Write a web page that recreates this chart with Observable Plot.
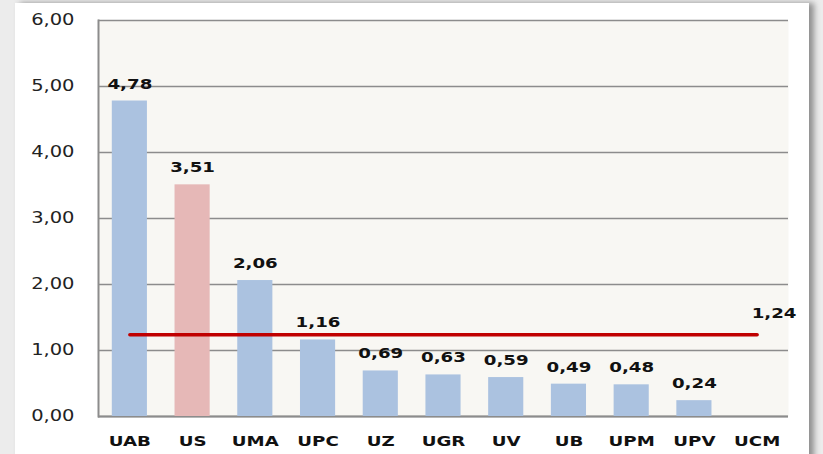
<!DOCTYPE html>
<html>
<head>
<meta charset="utf-8">
<script src="https://cdn.jsdelivr.net/npm/d3@7"></script>
<script src="https://cdn.jsdelivr.net/npm/@observablehq/plot@0.6"></script>
<style>
  html, body { margin: 0; padding: 0; width: 823px; height: 454px; overflow: hidden; background: #ececec; }
  #card { position: absolute; left: 15px; top: 3px; width: 794px; height: 470px; background: #ffffff; box-shadow: 5px 0 6px #8f8f8f; }
  #chart { position: absolute; left: 0; top: 0; }
</style>
</head>
<body>
<div id="card"></div>
<div id="chart"></div>
<script>
const categories = ["UAB", "US", "UMA", "UPC", "UZ", "UGR", "UV", "UB", "UPM", "UPV", "UCM"];
const values = [4.78, 3.51, 2.06, 1.16, 0.69, 0.63, 0.59, 0.49, 0.48, 0.24, 0];
const highlighted = ["US"];
const average = 1.24;
const yTicks = [0, 1, 2, 3, 4, 5, 6];

const data = categories.map((c, i) => ({ cat: c, value: values[i], hi: highlighted.includes(c) }));
const labelled = data.filter(d => d.value > 0);
const fmt = v => v.toFixed(2).replace(".", ",");
const avgLine = [
  { cat: categories[0], value: average },
  { cat: categories[categories.length - 1], value: average }
];

const chart = Plot.plot({
  width: 823,
  height: 454,
  marginLeft: 98,
  marginRight: 35,
  marginTop: 20,
  marginBottom: 38,
  style: { background: "transparent", fontFamily: "DejaVu Sans, Verdana, sans-serif" },
  x: { domain: categories, paddingInner: 0.44, paddingOuter: 0.22, round: false, label: null },
  y: { domain: [0, 6], label: null },
  marks: [
    Plot.frame({ fill: "#f8f7f3", stroke: null }),
    Plot.gridY(yTicks, { stroke: "#8c8c8c", strokeOpacity: 1, strokeWidth: 1.5 }),
    Plot.ruleY([0], { stroke: "#8c8c8c", strokeWidth: 2 }),
    Plot.frame({ anchor: "left", stroke: "#8c8c8c", strokeWidth: 2 }),
    Plot.barY(data, { x: "cat", y: "value", fill: d => d.hi ? "#e6b8b7" : "#abc2e0" }),
    Plot.line(avgLine, { x: "cat", y: "value", stroke: "#c00000", strokeWidth: 3.5, strokeLinecap: "round" }),
    Plot.text(labelled, { x: "cat", y: "value", text: d => fmt(d.value), dy: -17, fontWeight: "bold", fontSize: 14, fill: "#111" }),
    Plot.text([avgLine[1]], { x: "cat", y: "value", text: d => fmt(d.value), dx: 17, dy: -21, fontWeight: "bold", fontSize: 14, fill: "#111" }),
    Plot.axisY(yTicks, { tickSize: 0, tickPadding: 24, tickFormat: fmt, fontSize: 15, fill: "#222" }),
    Plot.axisX({ tickSize: 0, tickPadding: 20, fontSize: 14, fontWeight: "bold", fill: "#111" })
  ]
});
document.getElementById("chart").appendChild(chart);

// horizontally stretch text glyphs (about their anchor) to mimic the reference's wide lettering
function stretch(sel, k, align) {
  sel.each(function () {
    const b = this.getBBox();
    const cx = align === "right" ? b.x + b.width : b.x + b.width / 2;
    const t = this.getAttribute("transform") || "";
    this.setAttribute("transform", `${t} translate(${cx},0) scale(${k},1) translate(${-cx},0)`);
  });
}
const root = d3.select(chart);
stretch(root.selectAll("g[aria-label='y-axis tick label'] text"), 1.3, "right");
stretch(root.selectAll("g[aria-label='x-axis tick label'] text"), 1.3, "center");
stretch(root.selectAll("g[aria-label='text'] text"), 1.3, "center");
</script>
</body>
</html>
